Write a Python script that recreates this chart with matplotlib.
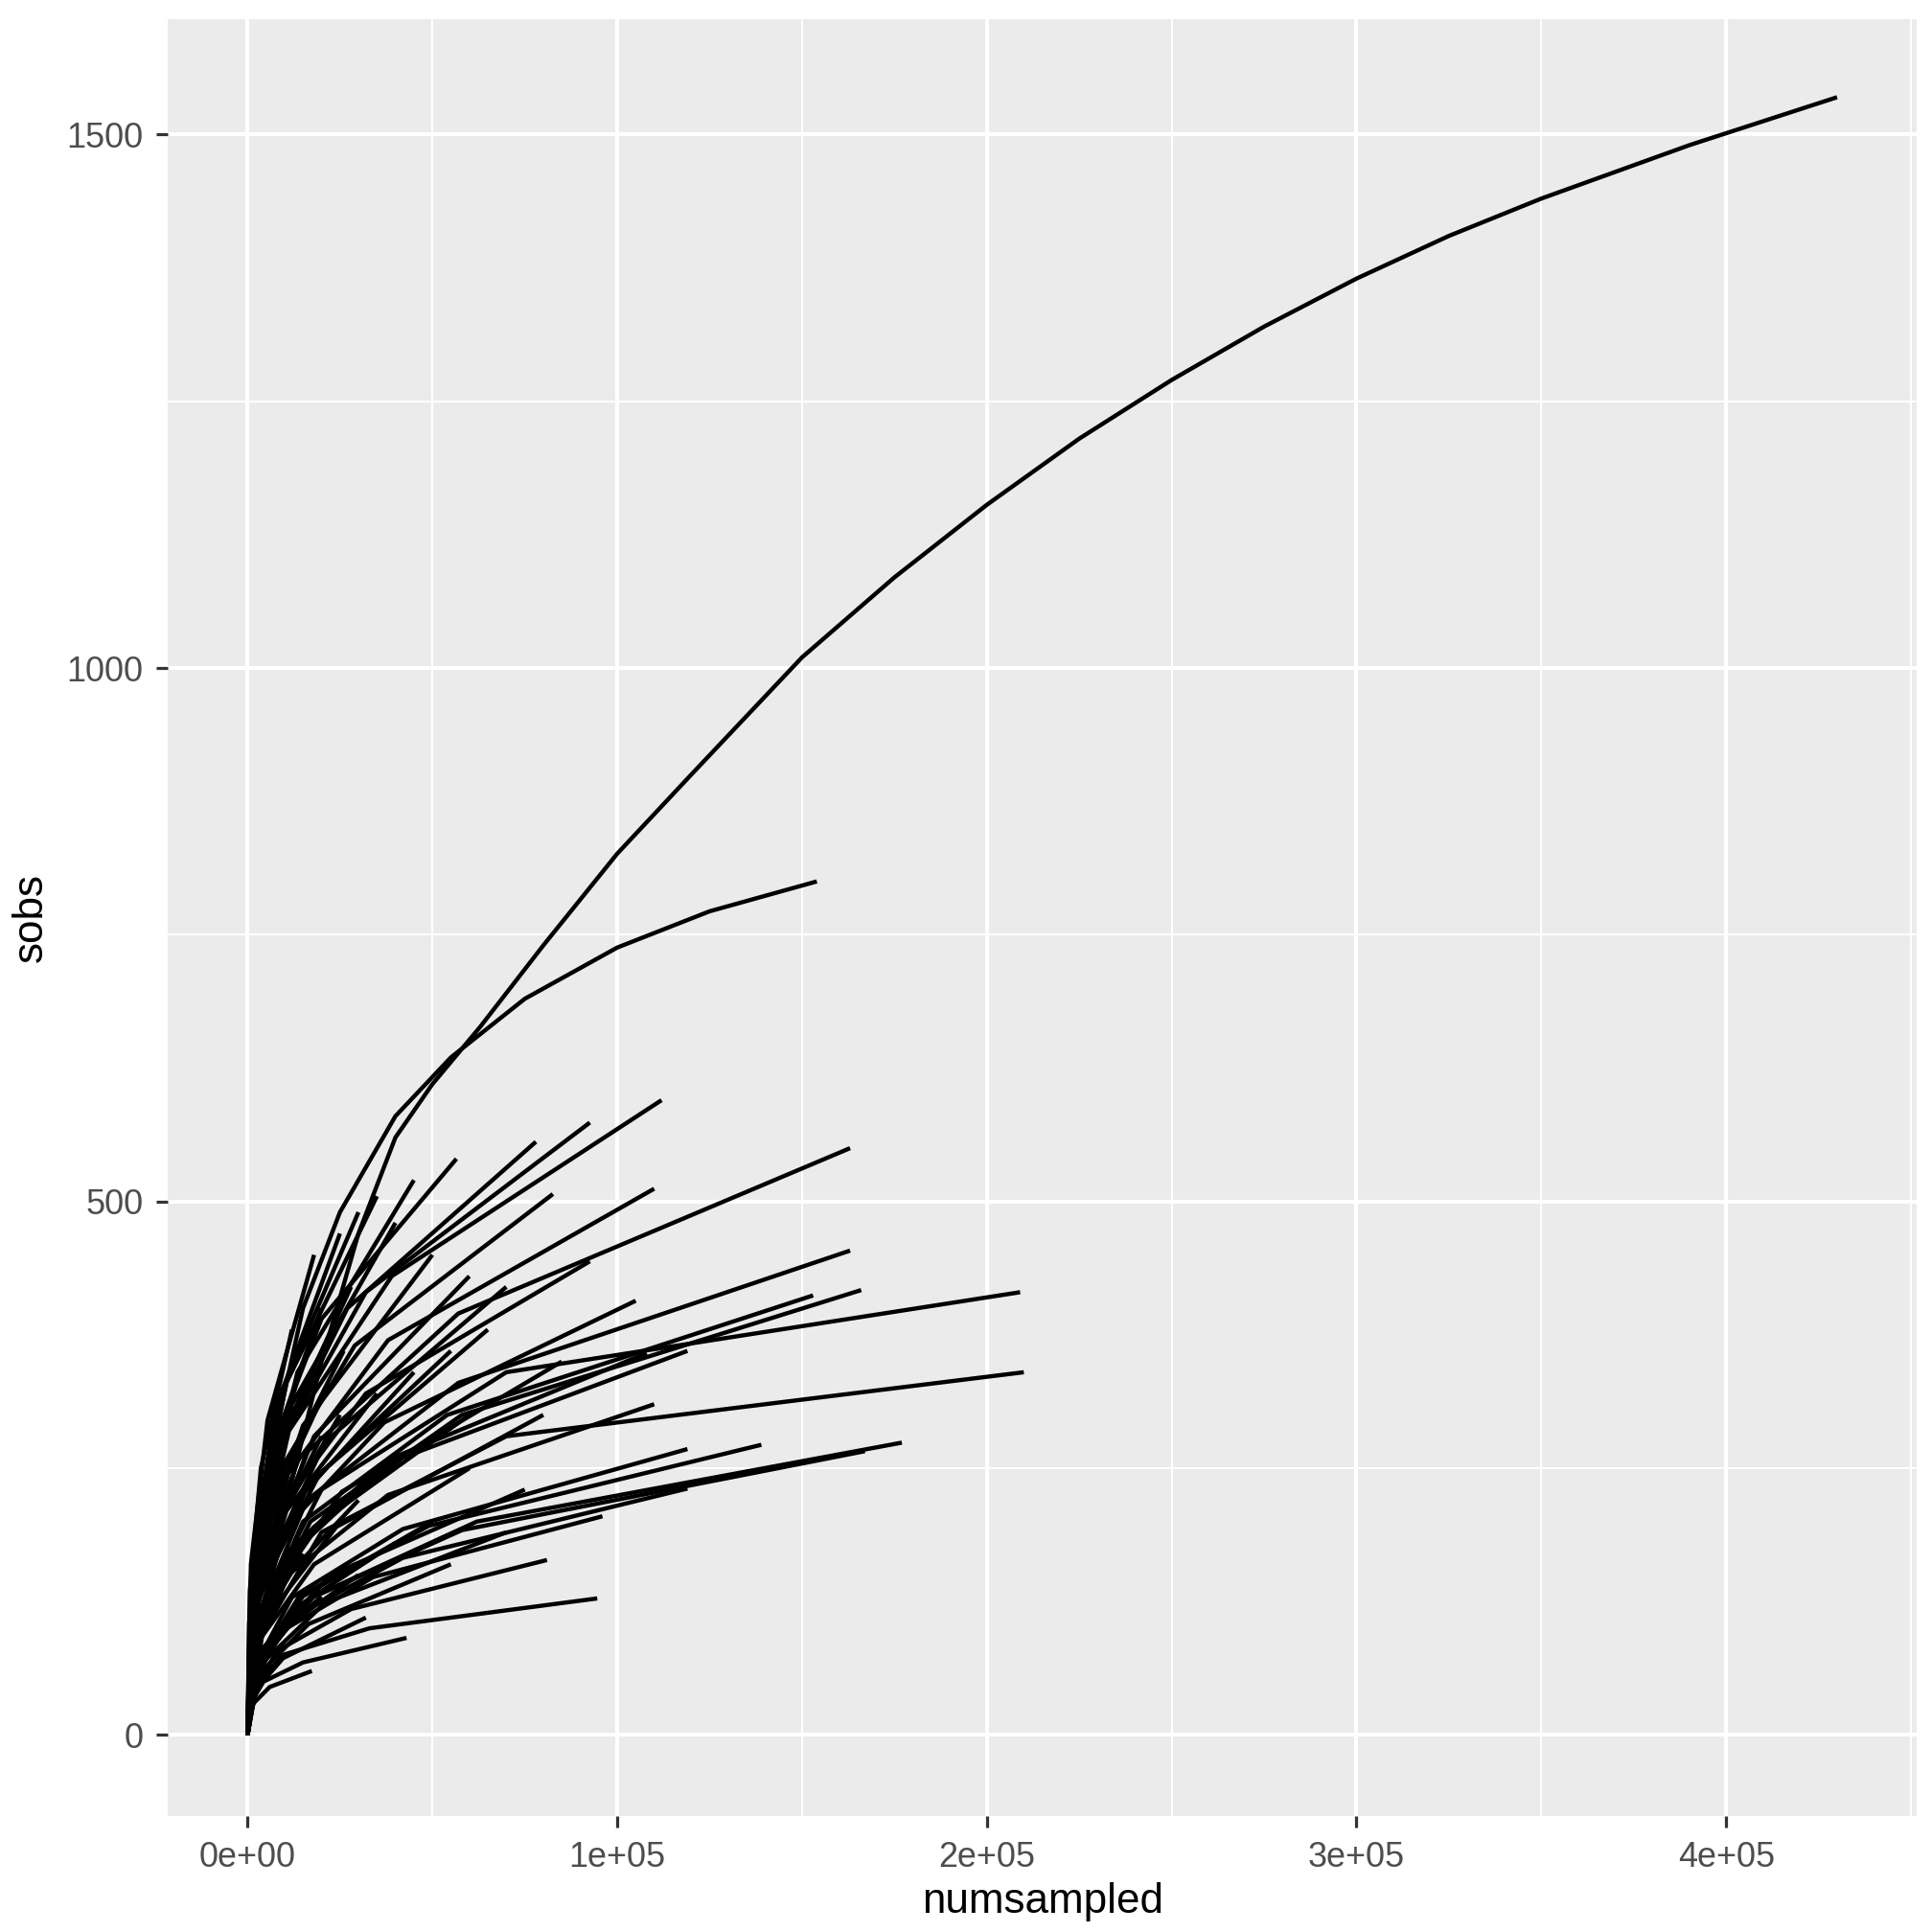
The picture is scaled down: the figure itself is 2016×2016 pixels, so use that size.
import matplotlib
matplotlib.use("Agg")
import matplotlib.pyplot as plt
from matplotlib.ticker import FixedLocator

plt.rcParams['font.family'] = ['Liberation Sans', 'DejaVu Sans']

# rarefaction curves: x = numsampled, y = sobs
curve_x = [
    [0, 2000, 5000, 10000, 20000, 30000, 40000, 50000, 63000, 80000, 100000, 120000, 150000,
     175000, 200000, 225000, 250000, 275000, 300000, 325000, 350000, 390000, 430000],
    [0, 1000, 3000, 8000, 15000, 25000, 40000, 55000, 75000, 100000, 125000, 154000],
    [0, 2200, 11200, 39000, 112000],
    [0, 1900, 9300, 32000, 92600],
    [0, 1600, 7800, 27000, 78000],
    [0, 1100, 5600, 20000, 56500],
    [0, 3300, 16000, 57000, 163000],
    [0, 1700, 8300, 29000, 82600],
    [0, 2200, 11000, 38000, 110000],
    [0, 1900, 9300, 32000, 92600],
    [0, 3300, 16000, 57000, 163000],
    [0, 3300, 17000, 58000, 166000],
    [0, 3100, 15000, 54000, 153000],
    [0, 4000, 20000, 70000, 209000],
    [0, 4000, 20000, 70000, 210000],
    [0, 2400, 12000, 42000, 119000],
    [0, 2200, 11000, 38000, 110000],
    [0, 3500, 18000, 62000, 177000],
    [0, 3300, 17000, 58000, 167000],
    [0, 2800, 14000, 49000, 139000],
    [0, 2400, 12000, 42000, 119000],
    [0, 1900, 9600, 34000, 96000],
    [0, 1900, 9500, 33000, 94600],
    [0, 900, 4300, 15000, 43000],
    [0, 350, 1700, 6000, 17400],
    [0, 1600, 8100, 28000, 81000],
    [0, 2100, 10500, 37000, 105000],
    [0, 2200, 10800, 38000, 108000],
    [0, 2400, 12000, 42000, 119000],
    [0, 2000, 12000, 40000],
    [0, 1750, 10500, 35000],
    [0, 1500, 9000, 30000],
    [0, 1250, 7500, 25000],
    [0, 2250, 13500, 45000],
    [0, 2500, 15000, 50000],
    [0, 3000, 18000, 60000],
    [0, 3500, 21000, 70000],
    [0, 3250, 19500, 65000],
    [0, 2750, 16500, 55000],
    [0, 2250, 13500, 45000],
    [0, 1750, 10500, 35000],
    [0, 1250, 7500, 25000],
    [0, 1000, 6000, 20000],
    [0, 2000, 12000, 40000],
    [0, 3000, 18000, 60000],
    [0, 3750, 22500, 75000],
    [0, 1500, 9000, 30000],
    [0, 2500, 15000, 50000],
    [0, 3500, 21000, 70000],
    [0, 2000, 12000, 40000],
    [0, 2750, 16500, 55000],
    [0, 1500, 9000, 30000],
    [0, 1000, 6000, 20000],
    [0, 1600, 9600, 32000],
    [0, 750, 4500, 15000],
    [0, 4000, 24000, 80000],
    [0, 4250, 25500, 85000],
    [0, 500, 3000, 10000],
    [0, 3000, 18000, 60000],
    [0, 1000, 6000, 20000],
    [0, 750, 4500, 15000],
    [0, 1400, 8400, 28000],
    [0, 600, 3600, 12000],
    [0, 900, 5400, 18000],
    [0, 400, 2400, 8000],
    [0, 1100, 6600, 22000],
    [0, 700, 4200, 14000],
    [0, 1300, 7800, 26000],
]
curve_y = [
    [0, 60, 120, 210, 350, 470, 560, 610, 664, 740, 826, 900, 1010,
     1085, 1153, 1215, 1270, 1320, 1365, 1405, 1440, 1490, 1535],
    [0, 100, 170, 290, 400, 490, 580, 635, 690, 738, 772, 800],
    [0, 150, 285, 430, 595],
    [0, 145, 275, 415, 574],
    [0, 140, 265, 400, 556],
    [0, 135, 260, 390, 540],
    [0, 140, 265, 395, 550],
    [0, 125, 245, 365, 507],
    [0, 130, 245, 370, 512],
    [0, 110, 215, 320, 444],
    [0, 115, 220, 330, 454],
    [0, 105, 200, 300, 417],
    [0, 105, 200, 300, 412],
    [0, 120, 230, 340, 415],
    [0, 95, 190, 280, 340],
    [0, 90, 175, 260, 360],
    [0, 78, 150, 225, 310],
    [0, 70, 130, 200, 274],
    [0, 67, 128, 192, 266],
    [0, 68, 130, 196, 272],
    [0, 58, 110, 166, 231],
    [0, 52, 98, 148, 205],
    [0, 45, 75, 100, 128],
    [0, 30, 50, 68, 91],
    [0, 18, 30, 45, 60],
    [0, 41, 79, 118, 164],
    [0, 100, 195, 293, 407],
    [0, 90, 172, 258, 358],
    [0, 67, 129, 193, 268],
    [0, 170, 310, 480],
    [0, 175, 330, 505],
    [0, 170, 320, 490],
    [0, 165, 305, 470],
    [0, 180, 340, 520],
    [0, 160, 290, 450],
    [0, 150, 280, 430],
    [0, 145, 275, 420],
    [0, 135, 245, 380],
    [0, 125, 235, 360],
    [0, 120, 220, 340],
    [0, 110, 210, 320],
    [0, 105, 195, 300],
    [0, 100, 180, 280],
    [0, 90, 170, 260],
    [0, 88, 160, 250],
    [0, 80, 150, 230],
    [0, 77, 143, 220],
    [0, 70, 130, 200],
    [0, 66, 124, 190],
    [0, 63, 117, 180],
    [0, 56, 104, 160],
    [0, 52, 98, 150],
    [0, 45, 85, 130],
    [0, 40, 72, 110],
    [0, 60, 110, 170],
    [0, 105, 195, 300],
    [0, 122, 228, 350],
    [0, 88, 163, 250],
    [0, 105, 195, 300],
    [0, 140, 260, 400],
    [0, 122, 228, 350],
    [0, 147, 273, 420],
    [0, 135, 250, 380],
    [0, 160, 295, 450],
    [0, 105, 195, 300],
    [0, 115, 215, 330],
    [0, 90, 170, 260],
    [0, 125, 235, 360],
]

x_ticks = [0, 100000, 200000, 300000, 400000]
x_labels = ['0e+00', '1e+05', '2e+05', '3e+05', '4e+05']
y_ticks = [0, 500, 1000, 1500]

fig = plt.figure(figsize=(7, 7), dpi=288)
ax = fig.add_axes([0.087, 0.06, 0.905, 0.93])
ax.set_facecolor('#EBEBEB')

for xs, ys in zip(curve_x, curve_y):
    ax.plot(xs, ys, color='black', lw=1.1, solid_capstyle='butt', solid_joinstyle='round')

ax.set_xlim(-21500, 451500)
ax.set_ylim(-76, 1608)
ax.set_xticks(x_ticks)
ax.set_xticklabels(x_labels)
ax.set_yticks(y_ticks)
ax.xaxis.set_minor_locator(FixedLocator([50000, 150000, 250000, 350000, 450000]))
ax.yaxis.set_minor_locator(FixedLocator([250, 750, 1250]))
ax.grid(which='major', color='white', lw=1.0)
ax.grid(which='minor', color='white', lw=0.5)
ax.set_axisbelow(True)
for s in ax.spines.values():
    s.set_visible(False)
ax.tick_params(which='major', length=3, color='#333333', labelsize=9, labelcolor='#4D4D4D')
ax.tick_params(which='minor', length=0)
ax.set_xlabel('numsampled', fontsize=11, labelpad=2)
ax.set_ylabel('sobs', fontsize=11, labelpad=4)

fig.savefig('out.png', dpi=288)
